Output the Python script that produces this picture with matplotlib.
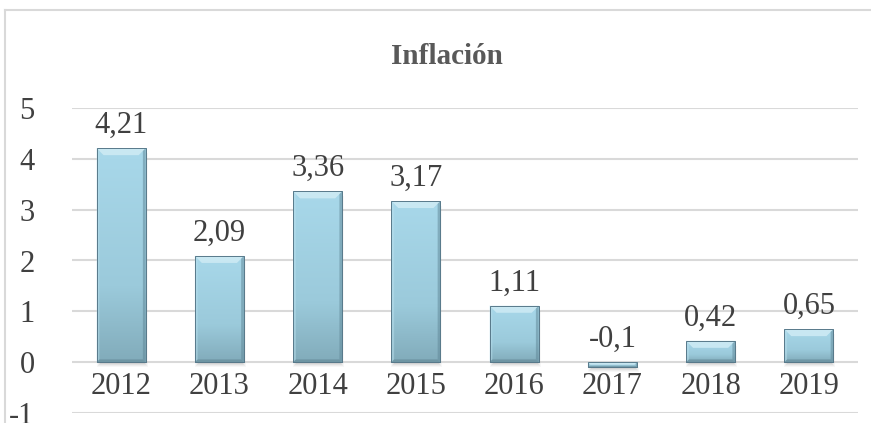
import numpy as np
import matplotlib.pyplot as plt
from matplotlib.colors import LinearSegmentedColormap
from matplotlib.patches import Polygon, Rectangle
from matplotlib.lines import Line2D

# data
years = ['2012', '2013', '2014', '2015', '2016', '2017', '2018', '2019']
inflacion = [4.21, 2.09, 3.36, 3.17, 1.11, -0.1, 0.42, 0.65]
labels = ['4,21', '2,09', '3,36', '3,17', '1,11', '-0,1', '0,42', '0,65']
yticks = [-1, 0, 1, 2, 3, 4, 5]

plt.rcParams['font.family'] = ['Liberation Serif', 'DejaVu Serif']

W, H = 871, 423
fig = plt.figure(figsize=(W / 100, H / 100), dpi=100)
ax = fig.add_axes([72 / W, 10 / H, 786 / W, 305 / H])

x = np.arange(len(years))
bw = 0.5
px_x = 8 / 786          # one pixel in category units
px_y = 6 / 305          # one pixel in data units

# soft shadow under bars
for k, a in [(5, 0.05), (4, 0.07), (3, 0.09), (2, 0.12)]:
    for xi, v in zip(x, inflacion):
        lo, hi = min(0, v), max(0, v)
        ax.add_patch(Rectangle((xi - bw / 2 + px_x * (5 - k), lo - k * px_y), bw - px_x * (10 - 2 * k) + px_x * 2,
                               hi - lo, facecolor='#707070', alpha=a, edgecolor='none', zorder=1))

bars = ax.bar(x, inflacion, width=bw, color='#a3d3e4', edgecolor='#5f8292', linewidth=0.7, zorder=2)

cmap = LinearSegmentedColormap.from_list('bar', [(0, '#82acbb'), (0.35, '#9bcadb'), (1, '#a8d8ea')])
grad = np.linspace(0, 1, 64).reshape(-1, 1)

for b, v in zip(bars, inflacion):
    x0 = b.get_x()
    x1 = x0 + b.get_width()
    lo, hi = min(0, v), max(0, v)
    im = ax.imshow(grad, cmap=cmap, aspect='auto', extent=[x0, x1, lo, hi], zorder=3,
                   origin='lower', interpolation='bicubic')
    im.set_clip_path(b)
    dy = min(7 * px_y, (hi - lo) / 2)
    dx = min(7 * px_x, dy / px_y * px_x)
    # top bevel (light)
    ax.add_patch(Polygon([(x0, hi), (x1, hi), (x1 - dx, hi - dy), (x0 + dx, hi - dy)],
                         closed=True, facecolor='#cbe9f3', edgecolor='none', alpha=0.95, zorder=4))
    # bottom bevel (dark)
    ax.add_patch(Polygon([(x0, lo), (x1, lo), (x1 - dx * 0.4, lo + dy * 0.4), (x0 + dx * 0.4, lo + dy * 0.4)],
                         closed=True, facecolor='#5c7f8d', edgecolor='none', alpha=0.5, zorder=4))
    # side bevels
    ax.add_patch(Polygon([(x0, lo), (x0, hi), (x0 + dx * 0.4, hi - dy * 0.4), (x0 + dx * 0.4, lo + dy * 0.4)],
                         closed=True, facecolor='#b9dfec', edgecolor='none', alpha=0.5, zorder=4))
    ax.add_patch(Polygon([(x1, lo), (x1, hi), (x1 - dx * 0.4, hi - dy * 0.4), (x1 - dx * 0.4, lo + dy * 0.4)],
                         closed=True, facecolor='#5f8696', edgecolor='none', alpha=0.5, zorder=4))
    ax.add_patch(Rectangle((x0, lo), x1 - x0, hi - lo, facecolor='none', edgecolor='#58798a',
                           linewidth=0.7, zorder=5))

ax.set_xlim(-0.5, len(years) - 0.5)
ax.set_ylim(-1, 5)

# gridlines
for t in yticks:
    ax.axhline(t, color='#d9d9d9', linewidth=1.5, zorder=0)

ax.set_yticks(yticks)
ax.set_yticklabels([str(t) for t in yticks], fontsize=22, color='#404040')
ax.tick_params(axis='y', length=0, pad=27)
ax.set_xticks([])
for s in ax.spines.values():
    s.set_visible(False)

# category labels under the zero line
for xi, yr in zip(x, years):
    ax.annotate(yr, (xi, 0), xytext=(0, -7), textcoords='offset points',
                ha='center', va='top', fontsize=22, color='#404040')

# data labels
for xi, v, lab in zip(x, inflacion, labels):
    ax.annotate(lab, (xi, max(v, 0)), xytext=(0, 6), textcoords='offset points',
                ha='center', va='bottom', fontsize=22, color='#404040')

fig.text(447 / W, 1 - 56 / H, 'Inflación', ha='center', va='center',
         fontsize=21, fontweight='bold', color='#595959')

# chart frame
fig.add_artist(Line2D([5 / W, 5 / W], [0, 1 - 10 / H], transform=fig.transFigure,
                      color='#d9d9d9', linewidth=1.5))
fig.add_artist(Line2D([5 / W, 1], [1 - 10 / H, 1 - 10 / H], transform=fig.transFigure,
                      color='#d9d9d9', linewidth=1.5))

fig.savefig('out.png', dpi=100)
